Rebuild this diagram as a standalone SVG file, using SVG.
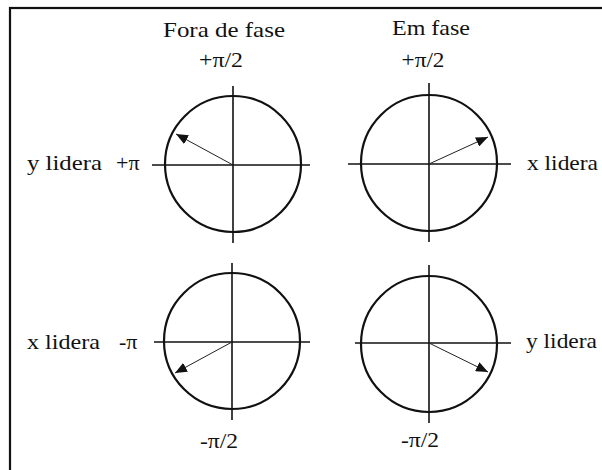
<svg xmlns="http://www.w3.org/2000/svg" width="602" height="470" viewBox="0 0 602 470">
<style>
.c{fill:none;stroke:#111;stroke-width:2.2}
.ax{stroke:#111;stroke-width:1.6}
.ar{stroke:#222;stroke-width:1}
</style>
<defs>
<marker id="ah" markerUnits="userSpaceOnUse" markerWidth="14" markerHeight="10" refX="12" refY="5" orient="auto">
<path d="M0,0 L12,5 L0,10 Z" fill="#111"/>
</marker>
</defs>
<rect width="602" height="470" fill="#fff"/>
<rect x="10" y="8" width="620" height="480" fill="none" stroke="#111" stroke-width="2.2"/>
<g font-family="Liberation Serif" font-size="22" fill="#111">
<g id="titles">
<text x="224" y="37" text-anchor="middle" textLength="122" lengthAdjust="spacingAndGlyphs">Fora de fase</text>
<text x="431" y="35" text-anchor="middle" textLength="78" lengthAdjust="spacingAndGlyphs">Em fase</text>
</g>
<g id="q-tl">
<circle class="c" cx="233" cy="164" r="68"/>
<line class="ax" x1="233" y1="86" x2="233" y2="243"/>
<line class="ax" x1="152" y1="165" x2="310" y2="165"/>
<text x="221" y="67" text-anchor="middle" textLength="44" lengthAdjust="spacingAndGlyphs">+π/2</text>
<text x="27" y="170" textLength="75" lengthAdjust="spacingAndGlyphs">y lidera</text>
<text x="116" y="170">+π</text>
</g>
<g id="q-tr">
<circle class="c" cx="429" cy="163" r="68"/>
<line class="ax" x1="429" y1="83" x2="429" y2="242"/>
<line class="ax" x1="348" y1="164" x2="511" y2="164"/>
<text x="423" y="67" text-anchor="middle" textLength="43" lengthAdjust="spacingAndGlyphs">+π/2</text>
<text x="527" y="170" textLength="71" lengthAdjust="spacingAndGlyphs">x lidera</text>
</g>
<g id="q-bl">
<circle class="c" cx="232" cy="341" r="68"/>
<line class="ax" x1="232" y1="263" x2="232" y2="420"/>
<line class="ax" x1="154" y1="342" x2="310" y2="342"/>
<text x="27" y="349" textLength="73" lengthAdjust="spacingAndGlyphs">x lidera</text>
<text x="119" y="349">-π</text>
<text x="219" y="448" text-anchor="middle" textLength="38" lengthAdjust="spacingAndGlyphs">-π/2</text>
</g>
<g id="q-br">
<circle class="c" cx="429" cy="344" r="68"/>
<line class="ax" x1="429" y1="265" x2="429" y2="423"/>
<line class="ax" x1="355" y1="343" x2="511" y2="343"/>
<text x="526" y="348" textLength="71" lengthAdjust="spacingAndGlyphs">y lidera</text>
<text x="420" y="447" text-anchor="middle" textLength="38" lengthAdjust="spacingAndGlyphs">-π/2</text>
</g>
</g>
<g id="connectors">
<line class="ar" x1="233" y1="165" x2="176" y2="134" marker-end="url(#ah)"/>
<line class="ar" x1="429" y1="164" x2="488" y2="137" marker-end="url(#ah)"/>
<line class="ar" x1="232" y1="342" x2="175" y2="373" marker-end="url(#ah)"/>
<line class="ar" x1="429" y1="343" x2="488" y2="372" marker-end="url(#ah)"/>
</g>
</svg>
